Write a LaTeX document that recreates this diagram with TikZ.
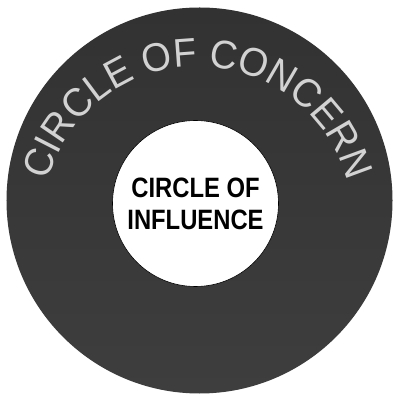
\documentclass[tikz,border=0pt]{standalone}
\usepackage{fontspec}
\usepackage{xcolor}
\usepackage{tikz}
\usetikzlibrary{shapes,positioning,decorations.text}

\newfontfamily\concernfont[FakeStretch=0.95]{Liberation Sans}
\newfontfamily\influencefont[FakeStretch=0.85]{Liberation Sans}
\definecolor{concerntop}{HTML}{323232}
\definecolor{concernbottom}{HTML}{3E3E3E}
\definecolor{concerntext}{HTML}{D2D2D2}

\begin{document}
\begin{tikzpicture}[x=1pt,y=1pt]
                \useasboundingbox (-199.5,-194.5) rectangle (193.5,200.5);

                \node[
                    circle,
                    inner sep=0pt,
                    minimum size=386pt,
                    top color=concerntop,
                    bottom color=concernbottom
                ] (concern) at (0,0) {};

                \node[
                    circle,
                    inner sep=0pt,
                    minimum size=166pt,
                    line width=0.6pt,
                    draw=black,
                    fill=white,
                    align=center,
                    font=\influencefont\bfseries\fontsize{28}{32}\selectfont
                ] (influence) at (-4,-3) {CIRCLE OF\\INFLUENCE};

                \path[
                    postaction={decorate},
                    decoration={
                        text along path,
                        text align=center,
                        text={|\concernfont\fontsize{40}{40}\selectfont\color{concerntext}|CIRCLE OF CONCERN}
                    }
                ] (-157,-21) arc[start angle=180, end angle=0, radius=155];

            \end{tikzpicture}
\end{document}
